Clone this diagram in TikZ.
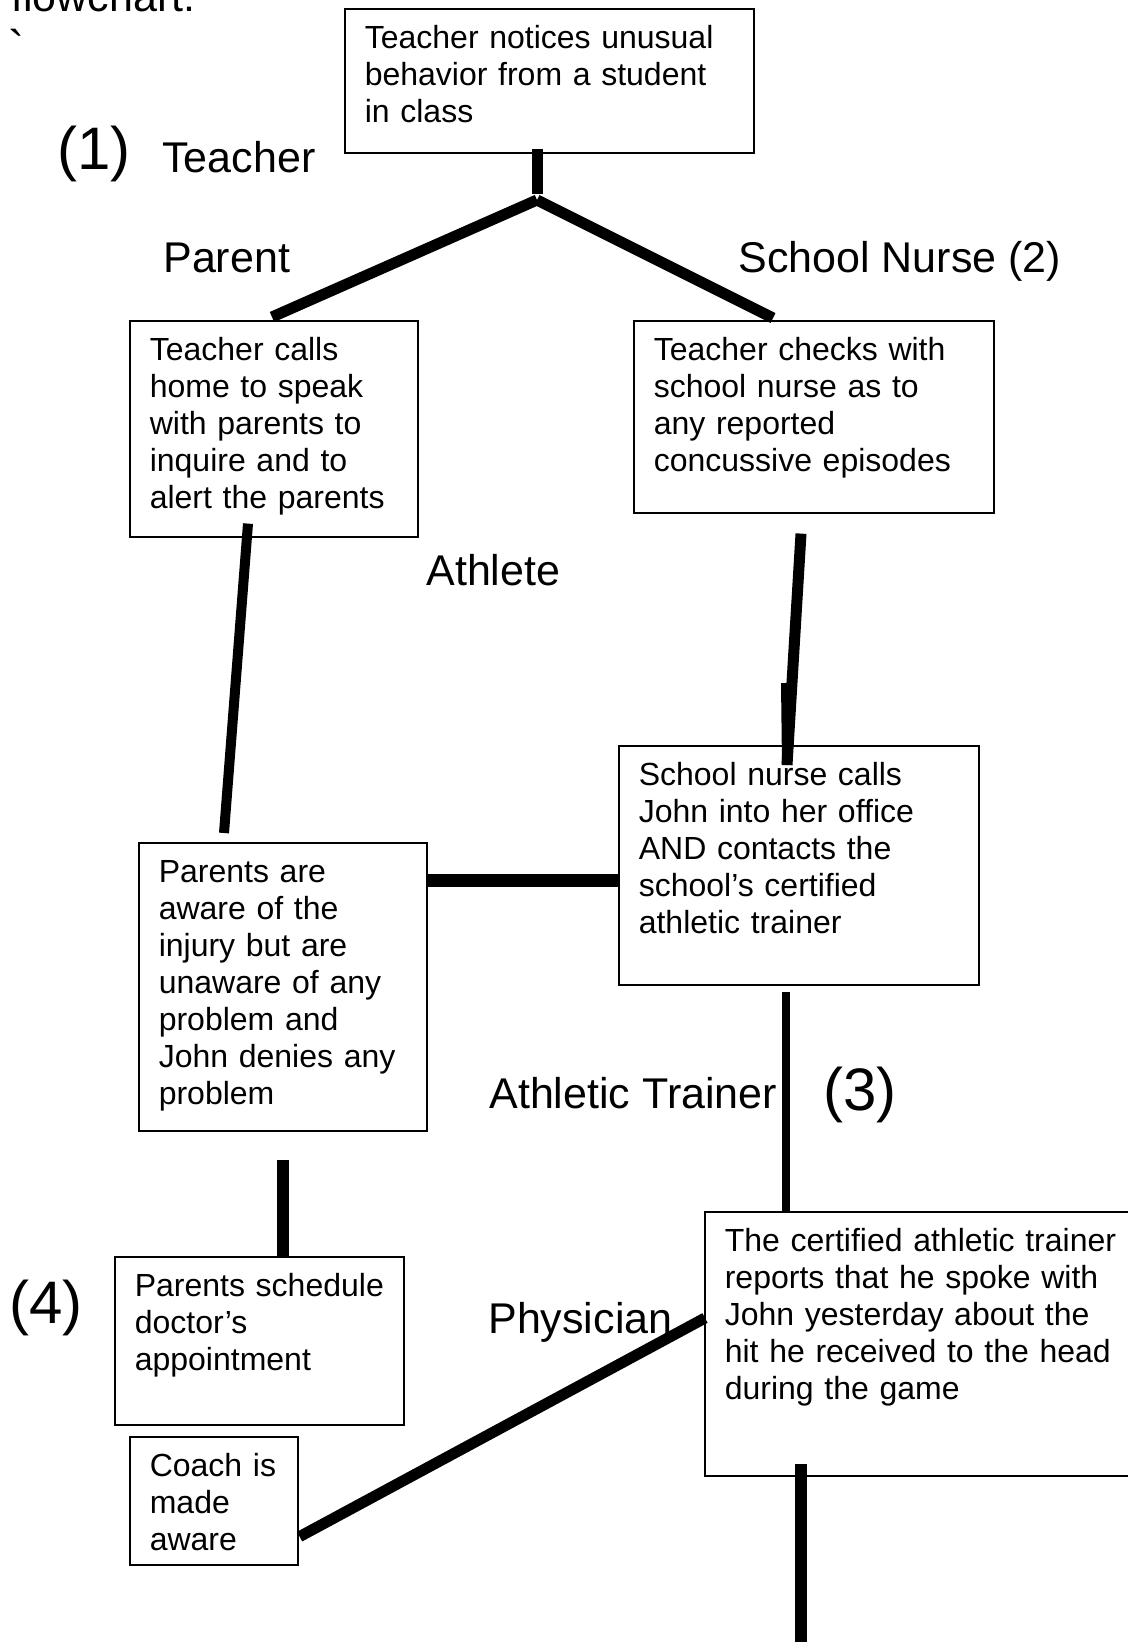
\documentclass[tikz,border=0pt]{standalone}
\usepackage{fontspec}
\setmainfont{Liberation Sans}
\begin{document}
\begin{tikzpicture}[line cap=butt,line join=miter,x=0.5pt,y=-0.5pt,
  stepbox/.style={draw,line width=0.8pt,anchor=north west,inner xsep=10pt,inner ysep=0pt,text height=20pt,align=left,font=\fontsize{16}{18.5}\selectfont},
  role/.style={inner sep=0pt,anchor=base west,font=\fontsize{21.5}{25}\selectfont},
  stage/.style={role,font=\fontsize{30}{34}\selectfont},
  link/.style={line width=5.5pt}]
\useasboundingbox (0,0) rectangle (1128,1642);
\clip (0,0) rectangle (1128,1642);
\node[stepbox,text width=184.5pt,text depth=52pt] (notice) at (344,8) {Teacher notices unusual\\behavior from a student\\in class};
\node[stepbox,text width=124pt,text depth=88pt] (callhome) at (129,320) {Teacher calls\\home to speak\\with parents to\\inquire and to\\alert the parents};
\node[stepbox,text width=160pt,text depth=76pt] (checknurse) at (633,320) {Teacher checks with\\school nurse as to\\any reported\\concussive episodes};
\node[stepbox,text width=160pt,text depth=99.5pt] (nursecalls) at (618,745) {School nurse calls\\John into her office\\AND contacts the\\school’s certified\\athletic trainer};
\node[stepbox,text width=124pt,text depth=124pt] (aware) at (138,842) {Parents are\\aware of the\\injury but are\\unaware of any\\problem and\\John denies any\\problem};
\node[stepbox,text width=124.5pt,text depth=64pt] (schedule) at (114,1256) {\mbox{Parents schedule}\\doctor’s\\appointment};
\node[stepbox,text width=64pt,text depth=44pt] (coach) at (129,1436) {Coach is\\made\\aware};
\node[stepbox,text width=200pt,text depth=112pt] (trainer) at (704,1211) {The certified athletic trainer\\reports that he spoke with\\John yesterday about the\\hit he received to the head\\during the game};
\node[role] (lblflow) at (11,12) {flowchart:};
\node[role,font=\fontsize{24}{28}\selectfont] (lblgrave) at (8,65) {\textasciigrave};
\node[stage] (lblone) at (57,170) {(1)};
\node[role] (lblteacher) at (162,173) {Teacher};
\node[role] (lblparent) at (163,273) {Parent};
\node[role] (lblnurse) at (738,273) {School Nurse (2)};
\node[role] (lblathlete) at (426,585) {Athlete};
\node[role] (lbltrainer) at (489,1108) {Athletic Trainer};
\node[stage] (lblthree) at (823,1110) {(3)};
\node[stage] (lblfour) at (9,1323) {(4)};
\node[role] (lblphysician) at (488,1333) {Physician};
\coordinate (fork) at (537,200);
\coordinate (jog) at (786,683);
\coordinate (pagefoot) at (801,1700);
\draw[link] ([xshift=96.5pt,yshift=2.5pt]notice.south west) -- ([yshift=3pt]fork);
\draw[link] (fork) -- ([xshift=71.5pt,yshift=1.5pt]callhome.north west);
\draw[link] (fork) -- ([xshift=70pt,yshift=1pt]checknurse.north west);
\draw[link,line width=5pt] ([xshift=59.5pt,yshift=7pt]callhome.south west) -- ([xshift=43pt,yshift=4.5pt]aware.north west);
\draw[link] ([xshift=84pt,yshift=-10pt]checknurse.south west) -- ([xshift=84.5pt,yshift=-10pt]nursecalls.north west);
\draw[link,line width=5pt] (jog) -- ([xshift=84.5pt,yshift=-10pt]nursecalls.north west);
\draw[link,line width=6.5pt] ([yshift=-19pt]aware.north east) -- ([yshift=-19pt]aware.north east -| nursecalls.west);
\draw[link,line width=4pt] ([xshift=84pt,yshift=-3pt]nursecalls.south west) coordinate (tdrop) -- (tdrop |- trainer.north);
\draw[link,line width=6pt] ([xshift=72.5pt,yshift=-14pt]aware.south west) coordinate (sdrop) -- (sdrop |- schedule.north);
\draw[link] ([xshift=0.5pt,yshift=14.5pt]coach.south east) -- ([xshift=0.5pt,yshift=-53.5pt]trainer.north west);
\draw[link,line width=6pt] ([xshift=48.5pt,yshift=6.5pt]trainer.south west) -- (pagefoot);
\end{tikzpicture}
\end{document}
